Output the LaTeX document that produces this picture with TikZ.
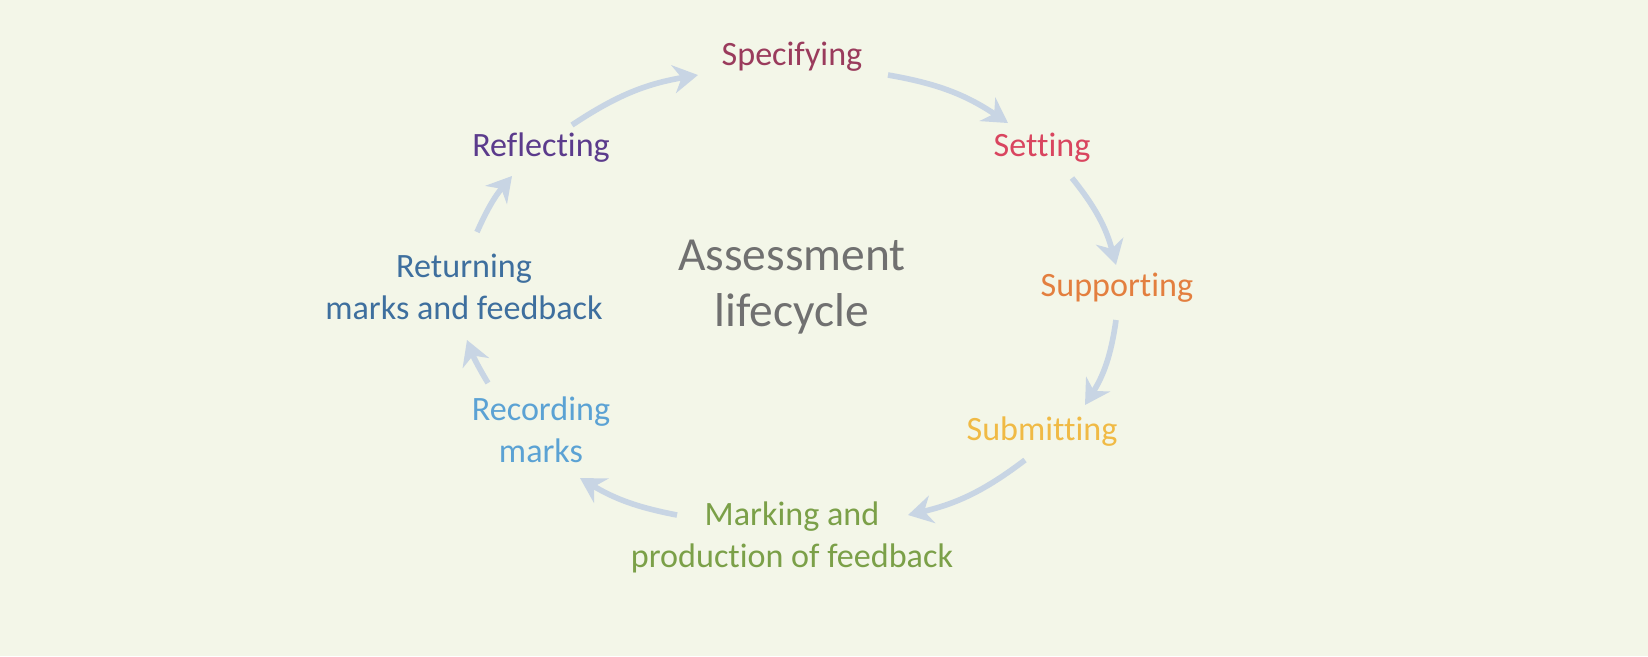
\documentclass[tikz,border=0pt]{standalone}
\usepackage{fontspec}
\setmainfont[Ligatures={NoCommon}]{Carlito}
\usetikzlibrary{arrows.meta}
\definecolor{bg}{HTML}{F3F6E8}
\definecolor{arr}{HTML}{C8D5E4}
\definecolor{cSp}{HTML}{9A3B5C}
\definecolor{cSe}{HTML}{D9455F}
\definecolor{cSu}{HTML}{E37F3F}
\definecolor{cSb}{HTML}{F0BA45}
\definecolor{cMa}{HTML}{7BA048}
\definecolor{cRe}{HTML}{5BA2D4}
\definecolor{cRt}{HTML}{3E6F9E}
\definecolor{cRf}{HTML}{5B3B8C}
\definecolor{cC}{HTML}{707070}
\begin{document}
\begin{tikzpicture}[x=0.01cm,y=-0.01cm,
 lab/.style={font=\fontsize{9.7}{12}\selectfont,align=center,inner sep=6pt},
 cyc/.style={draw=arr,line width=1.6pt,-{Stealth[length=7pt,width=8pt]}}]
\fill[bg] (0,0) rectangle (1648,656);
\useasboundingbox (0,0) rectangle (1648,656);
\node[lab,text=cSp] (sp) at (792,57) {Specifying};
\node[lab,text=cSe] (se) at (1042,148) {Setting};
\node[lab,text=cSu] (su) at (1117,288) {Supporting};
\node[lab,text=cSb] (sb) at (1042,432) {Submitting};
\node[lab,text=cMa] (ma) at (792,537) {Marking and\\production of feedback};
\node[lab,text=cRe] (re) at (541,430) {Recording\\marks};
\node[lab,text=cRt] (rt) at (464,287) {Returning\\marks and feedback};
\node[lab,text=cRf] (rf) at (541,148) {Reflecting};
\node[font=\fontsize{13.5}{16}\selectfont,align=center,text=cC] (c) at (792,287) {Assessment\\lifecycle};
\coordinate (a1) at (888,75);  \coordinate (b1) at (1008,123);
\coordinate (a2) at (1072,178); \coordinate (b2) at (1116,265);
\coordinate (a3) at (1116,320); \coordinate (b3) at (1085,405);
\coordinate (a4) at (1025,460); \coordinate (b4) at (908,515);
\coordinate (a5) at (677,515); \coordinate (b5) at (580,478);
\coordinate (a6) at (488,383); \coordinate (b6) at (467,340);
\coordinate (a7) at (477,232); \coordinate (b7) at (512,176);
\coordinate (a8) at (572,125); \coordinate (b8) at (698,75);
\draw[cyc] (a1) to[bend left=12] (b1);
\draw[cyc] (a2) to[bend left=12] (b2);
\draw[cyc] (a3) to[bend left=12] (b3);
\draw[cyc] (a4) to[bend left=12] (b4);
\draw[cyc] (a5) to[bend left=10] (b5);
\draw[cyc] (a6) to[bend left=5] (b6);
\draw[cyc] (a7) to[bend left=8] (b7);
\draw[cyc] (a8) to[bend left=12] (b8);
\end{tikzpicture}
\end{document}
